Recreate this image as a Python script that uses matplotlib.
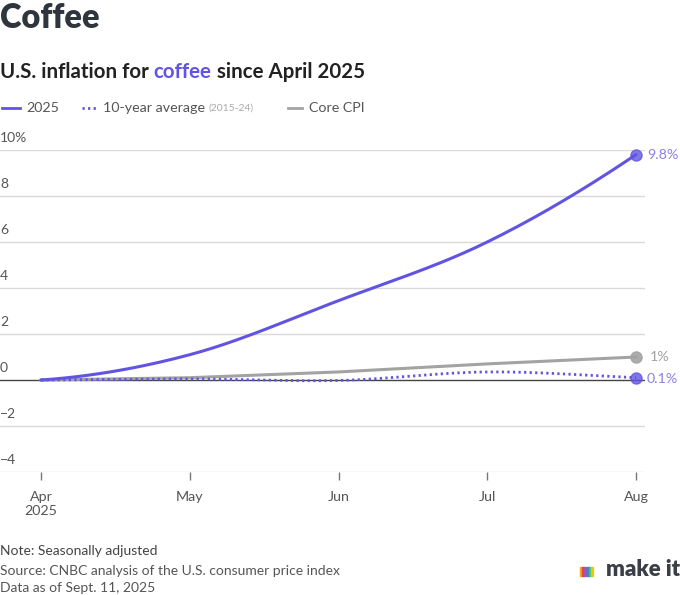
import numpy as np
import matplotlib.pyplot as plt
import matplotlib.transforms as mtransforms

# Datos (variación acumulada en %, desde abril de 2025)
months = ["Apr\n2025", "May", "Jun", "Jul", "Aug"]
coffee_2025 = [0.0, 1.1, 3.45, 6.0, 9.8]
ten_year_avg = [0.0, 0.05, -0.02, 0.35, 0.1]
core_cpi = [0.0, 0.1, 0.35, 0.7, 1.0]
y_ticks = [10, 8, 6, 4, 2, 0, -2, -4]

PURPLE = "#6254e3"
PURPLE_TXT = "#8b80ea"
GRAY = "#a3a3a3"
TXT = "#555555"
DARK = "#2f353d"

plt.rcParams["font.family"] = ["Lato", "DejaVu Sans"]


# Curva suave (Catmull-Rom) solo para dibujar
def smooth(xs, ys, n=40):
    xs = np.asarray(xs, float)
    ys = np.asarray(ys, float)
    h = np.diff(xs)
    d = np.diff(ys) / h
    m = np.zeros_like(ys)
    m[0] = d[0] * 0.4
    m[-1] = d[-1] * 1.15
    for i in range(1, len(ys) - 1):
        m[i] = (d[i - 1] + d[i]) / 2
    out_x, out_y = [], []
    for i in range(len(xs) - 1):
        t = np.linspace(0, 1, n)
        h00 = 2 * t**3 - 3 * t**2 + 1
        h10 = t**3 - 2 * t**2 + t
        h01 = -2 * t**3 + 3 * t**2
        h11 = t**3 - t**2
        out_x.extend(xs[i] + t * h[i])
        out_y.extend(h00 * ys[i] + h10 * h[i] * m[i] + h01 * ys[i + 1] + h11 * h[i] * m[i + 1])
    return out_x, out_y


def main():
    W, H = 680, 595
    fig = plt.figure(figsize=(W / 100, H / 100), dpi=100)

    # Área del gráfico en píxeles
    left_px, right_px, top_px, bottom_px = 0, 645, 150, 472
    ax = fig.add_axes([left_px / W, (H - bottom_px) / H,
                       (right_px - left_px) / W, (bottom_px - top_px) / H])

    x = np.arange(len(months))
    px_per = (636 - 41) / 4
    ax.set_xlim(-41 / px_per, 4 + 9 / px_per)
    ax.set_ylim(-4, 10)

    for s in ax.spines.values():
        s.set_visible(False)

    # Rejilla
    for v in y_ticks:
        col = "#444444" if v == 0 else "#d9d9d9"
        ax.axhline(v, color=col, lw=1.0, zorder=1)
        lab = f"{v}%" if v == 10 else (f"\u2212{abs(v)}" if v < 0 else f"{v}")
        ax.text(0.0, v + 0.25, lab, transform=mtransforms.blended_transform_factory(ax.transAxes, ax.transData),
                ha="left", va="bottom", fontsize=10, color=TXT)

    ax.set_yticks([])
    ax.set_xticks(x)
    ax.set_xticklabels(months, fontsize=10.3, color=TXT)
    ax.tick_params(axis="x", length=6, width=1, color="#777777", pad=8)

    # Series
    sx, sy = smooth(x, coffee_2025)
    ax.plot(sx, sy, color=PURPLE, lw=2.2, zorder=4, solid_capstyle="round")
    ax.plot(x[-1], coffee_2025[-1], "o", color=PURPLE, ms=8, alpha=0.8, zorder=5, clip_on=False)

    ax.plot(x, core_cpi, color=GRAY, lw=2.2, zorder=3)
    ax.plot(x[-1], core_cpi[-1], "o", color=GRAY, ms=8, alpha=0.9, zorder=5, clip_on=False)

    tx, ty = smooth(x, ten_year_avg)
    ax.plot(tx, ty, color=PURPLE, lw=2.0, ls=(0, (0.8, 1.2)), zorder=4)
    ax.plot(x[-1], ten_year_avg[-1], "o", color=PURPLE, ms=8, alpha=0.8, zorder=5, clip_on=False)

    # Etiquetas finales
    ax.annotate(f"{coffee_2025[-1]}%", (x[-1], coffee_2025[-1]), xytext=(8, 0),
                textcoords="offset points", va="center", ha="left", fontsize=10.3, color=PURPLE_TXT,
                annotation_clip=False)
    ax.annotate(f"{core_cpi[-1]:.0f}%", (x[-1], core_cpi[-1]), xytext=(10, 0),
                textcoords="offset points", va="center", ha="left", fontsize=10.3, color=GRAY,
                annotation_clip=False)
    ax.annotate(f"{ten_year_avg[-1]}%", (x[-1], ten_year_avg[-1]), xytext=(8, -1),
                textcoords="offset points", va="center", ha="left", fontsize=10.3, color=PURPLE_TXT,
                annotation_clip=False)

    # Títulos
    fig.text(0.0, 1 - 28 / H, "Coffee", fontsize=23.5, fontweight="heavy", color=DARK, va="baseline")
    t1 = fig.text(0.0, 1 - 78 / H, "U.S. inflation for", fontsize=14.8, fontweight="bold",
                  color="#222222", va="baseline")
    t2 = fig.text(0, 0, "coffee", fontsize=14.8, fontweight="bold", color=PURPLE, va="baseline")
    t3 = fig.text(0, 0, "since April 2025", fontsize=14.8, fontweight="bold", color="#222222", va="baseline")

    # Leyenda
    ly = 1 - 108 / H
    fig.add_artist(plt.Line2D([2 / W, 20 / W], [ly, ly], color=PURPLE, lw=2))
    l1 = fig.text(26 / W, ly, "2025", fontsize=10.3, color=TXT, va="center")
    fig.add_artist(plt.Line2D([82 / W, 96 / W], [ly, ly], color=PURPLE, lw=2, ls=(0, (0.8, 1.2))))
    l2 = fig.text(103 / W, ly, "10-year average", fontsize=10.3, color=TXT, va="center")
    l3 = fig.text(0, 0, "(2015-24)", fontsize=7.5, color="#aaaaaa", va="center")
    fig.add_artist(plt.Line2D([288 / W, 302 / W], [ly, ly], color=GRAY, lw=2))
    fig.text(309 / W, ly, "Core CPI", fontsize=10.3, color=TXT, va="center")

    # Notas
    fig.text(0.0, 1 - 555 / H, "Note: Seasonally adjusted", fontsize=10, color="#444444", va="baseline")
    fig.text(0.0, 1 - 575 / H, "Source: CNBC analysis of the U.S. consumer price index",
             fontsize=10, color=TXT, va="baseline")
    fig.text(0.0, 1 - 592 / H, "Data as of Sept. 11, 2025", fontsize=10, color=TXT, va="baseline")
    fig.text(1.0, 1 - 576 / H, "make it", fontsize=16, fontweight="heavy", color="#3a3f47",
             ha="right", va="baseline")
    cols = ["#f5a623", "#e8453c", "#9b59b6", "#3b7dd8", "#2ecc71", "#f1c40f"]
    for i, c in enumerate(cols):
        fig.add_artist(plt.Rectangle(((580 + i * 2.2) / W, 1 - 576 / H), 2 / W, 9 / H, color=c))

    # Posicionar textos en secuencia
    fig.canvas.draw()
    r = fig.canvas.get_renderer()
    inv = fig.transFigure.inverted()
    sp = 5 / W
    e1 = inv.transform(t1.get_window_extent(r))
    t2.set_position((e1[1][0] + sp, t1.get_position()[1]))
    fig.canvas.draw()
    e2 = inv.transform(t2.get_window_extent(r))
    t3.set_position((e2[1][0] + sp, t1.get_position()[1]))
    e4 = inv.transform(l2.get_window_extent(r))
    l3.set_position((e4[1][0] + 4 / W, ly))

    fig.savefig("out.png", dpi=100, facecolor="white")


if __name__ == "__main__":
    main()
